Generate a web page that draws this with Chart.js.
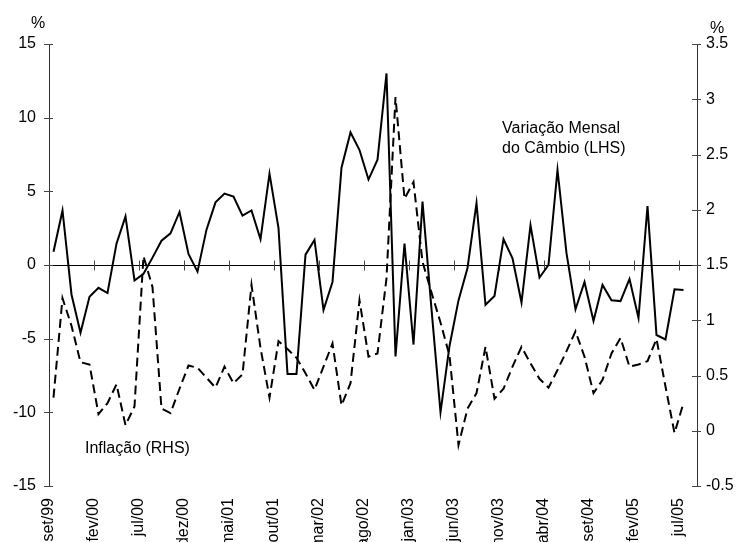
<!DOCTYPE html>
<html>
<head>
<meta charset="utf-8">
<script src="https://cdn.jsdelivr.net/npm/chart.js@4"></script>
<style>
    html, body { margin: 0; padding: 0; background: #fff; overflow: hidden; }
</style>
</head>
<body>
<canvas id="cambio_chart" width="739" height="542"></canvas>
<script>
// months, set/99 .. jul/05
var months = [
    'set/99', 'out/99', 'nov/99', 'dez/99',
    'jan/00', 'fev/00', 'mar/00', 'abr/00', 'mai/00', 'jun/00', 'jul/00', 'ago/00', 'set/00', 'out/00', 'nov/00', 'dez/00',
    'jan/01', 'fev/01', 'mar/01', 'abr/01', 'mai/01', 'jun/01', 'jul/01', 'ago/01', 'set/01', 'out/01', 'nov/01', 'dez/01',
    'jan/02', 'fev/02', 'mar/02', 'abr/02', 'mai/02', 'jun/02', 'jul/02', 'ago/02', 'set/02', 'out/02', 'nov/02', 'dez/02',
    'jan/03', 'fev/03', 'mar/03', 'abr/03', 'mai/03', 'jun/03', 'jul/03', 'ago/03', 'set/03', 'out/03', 'nov/03', 'dez/03',
    'jan/04', 'fev/04', 'mar/04', 'abr/04', 'mai/04', 'jun/04', 'jul/04', 'ago/04', 'set/04', 'out/04', 'nov/04', 'dez/04',
    'jan/05', 'fev/05', 'mar/05', 'abr/05', 'mai/05', 'jun/05', 'jul/05'
];

// Variação Mensal do Câmbio (LHS), %
var cambio = [
    0.9, 3.7, -2.0, -4.6, -2.15, -1.55, -1.9, 1.45, 3.3, -1.05,
    -0.6, 0.5, 1.65, 2.15, 3.6, 0.75, -0.45, 2.4, 4.25, 4.85,
    4.65, 3.35, 3.7, 1.75, 6.2, 2.5, -7.4, -7.4, 0.7, 1.7,
    -3.05, -1.15, 6.6, 9.0, 7.8, 5.8, 7.15, 13.0, -6.2, 1.45,
    -5.4, 4.3, -3.0, -10.0, -5.5, -2.4, -0.2, 4.2, -2.7, -2.1,
    1.75, 0.45, -2.55, 2.7, -0.85, 0.0, 6.45, 0.8, -3.0, -1.15,
    -3.8, -1.35, -2.4, -2.45, -0.95, -3.6, 4.0, -4.75, -5.05, -1.65,
    -1.7
];

// Inflação (RHS), %
var inflacao = [
    0.3, 1.2, 0.95, 0.62, 0.6, 0.15, 0.25, 0.42, 0.05, 0.22,
    1.58, 1.3, 0.2, 0.16, 0.38, 0.59, 0.57, 0.48, 0.39, 0.58,
    0.43, 0.51, 1.32, 0.75, 0.3, 0.81, 0.74, 0.66, 0.52, 0.37,
    0.58, 0.79, 0.23, 0.43, 1.18, 0.67, 0.7, 1.38, 3.02, 2.1,
    2.25, 1.53, 1.25, 0.98, 0.68, -0.13, 0.2, 0.34, 0.76, 0.29,
    0.38, 0.58, 0.76, 0.61, 0.47, 0.39, 0.55, 0.72, 0.9, 0.67,
    0.34, 0.46, 0.7, 0.84, 0.58, 0.6, 0.63, 0.83, 0.4, -0.02,
    0.25
];

var leftTicks = [-15, -10, -5, 0, 5, 10, 15];
var rightTicks = [-0.5, 0, 0.5, 1, 1.5, 2, 2.5, 3, 3.5];
var labelEvery = 5;

var FONT = '"Liberation Sans", Arial, sans-serif';

function toPoints(values) {
    return values.map(function (v, i) { return { x: i, y: v }; });
}

//Zero line with crossing ticks, inner half of the y ticks, % and series notes
var decorations = {
    id: 'decorations',
    beforeDatasetsDraw: function (chart) {
        var ctx = chart.ctx, area = chart.chartArea;
        var sx = chart.scales.x, yl = chart.scales.y, yr = chart.scales.y1;
        var y0 = Math.round(yl.getPixelForValue(0)) + 0.5;

        ctx.save();
        ctx.lineWidth = 1;
        ctx.strokeStyle = '#000';
        ctx.beginPath();
        ctx.moveTo(area.left, y0);
        ctx.lineTo(area.right, y0);
        ctx.stroke();

        ctx.strokeStyle = '#444';
        ctx.beginPath();
        sx.ticks.forEach(function (t) {
            var px = Math.round(sx.getPixelForValue(t.value)) + 0.5;
            if (px <= area.left + 1 || px >= area.right - 1) return;
            ctx.moveTo(px, y0 - 5);
            ctx.lineTo(px, y0 + 5);
        });
        yl.ticks.forEach(function (t) {
            var py = Math.round(yl.getPixelForValue(t.value)) + 0.5;
            ctx.moveTo(area.left - 5, py);
            ctx.lineTo(area.left + 4, py);
        });
        yr.ticks.forEach(function (t) {
            var py = Math.round(yr.getPixelForValue(t.value)) + 0.5;
            ctx.moveTo(area.right - 5, py);
            ctx.lineTo(area.right + 4, py);
        });
        ctx.stroke();
        ctx.restore();
    },
    afterDraw: function (chart) {
        var ctx = chart.ctx;
        ctx.save();
        ctx.fillStyle = '#000';
        ctx.font = '16px ' + FONT;
        ctx.textBaseline = 'alphabetic';
        ctx.textAlign = 'center';
        ctx.fillText('%', 38, 28);
        ctx.fillText('%', 717, 33);
        ctx.textAlign = 'left';
        ctx.fillText('Variação Mensal', 502, 133);
        ctx.fillText('do Câmbio (LHS)', 502, 153);
        ctx.fillText('Inflação (RHS)', 85, 453);
        ctx.restore();
    }
};

new Chart(document.getElementById('cambio_chart').getContext('2d'), {
    type: 'line',
    data: {
        datasets: [{
            label: 'Variação Mensal do Câmbio (LHS)',
            data: toPoints(cambio),
            yAxisID: 'y',
            borderColor: '#000',
            borderWidth: 2,
            pointRadius: 0,
            tension: 0
        }, {
            label: 'Inflação (RHS)',
            data: toPoints(inflacao),
            yAxisID: 'y1',
            borderColor: '#000',
            borderWidth: 2,
            borderDash: [9, 5],
            pointRadius: 0,
            tension: 0
        }]
    },
    options: {
        responsive: false,
        animation: false,
        events: [],
        layout: { padding: { top: 44, left: 0, right: 0, bottom: 0 } },
        plugins: {
            legend: { display: false },
            tooltip: { enabled: false }
        },
        scales: {
            x: {
                type: 'linear',
                position: 'bottom',
                min: -0.5,
                max: months.length + 0.5,
                afterBuildTicks: function (scale) {
                    var ticks = [];
                    for (var i = 0; i < months.length; i += labelEvery) {
                        ticks.push({ value: i - 0.5 });
                    }
                    scale.ticks = ticks;
                },
                afterFit: function (scale) { scale.height = 56; },
                grid: { display: false, drawTicks: false },
                border: { display: false },
                ticks: {
                    autoSkip: false,
                    minRotation: 90,
                    maxRotation: 90,
                    padding: 12,
                    color: '#000',
                    font: { family: FONT, size: 16 },
                    callback: function (value) {
                        return months[Math.round(value + 0.5)];
                    }
                }
            },
            y: {
                position: 'left',
                min: -15,
                max: 15,
                afterBuildTicks: function (scale) {
                    scale.ticks = leftTicks.map(function (v) { return { value: v }; });
                },
                afterFit: function (scale) { scale.width = 49; },
                grid: { display: false, drawTicks: false },
                border: { display: true, color: '#333', width: 1 },
                ticks: {
                    padding: 13,
                    color: '#000',
                    font: { family: FONT, size: 16 }
                }
            },
            y1: {
                position: 'right',
                min: -0.5,
                max: 3.5,
                afterBuildTicks: function (scale) {
                    scale.ticks = rightTicks.map(function (v) { return { value: v }; });
                },
                afterFit: function (scale) { scale.width = 42; },
                grid: { display: false, drawTicks: false },
                border: { display: true, color: '#333', width: 1 },
                ticks: {
                    padding: 9,
                    color: '#000',
                    font: { family: FONT, size: 16 },
                    callback: function (value) { return String(value); }
                }
            }
        }
    },
    plugins: [decorations]
});
</script>
</body>
</html>
